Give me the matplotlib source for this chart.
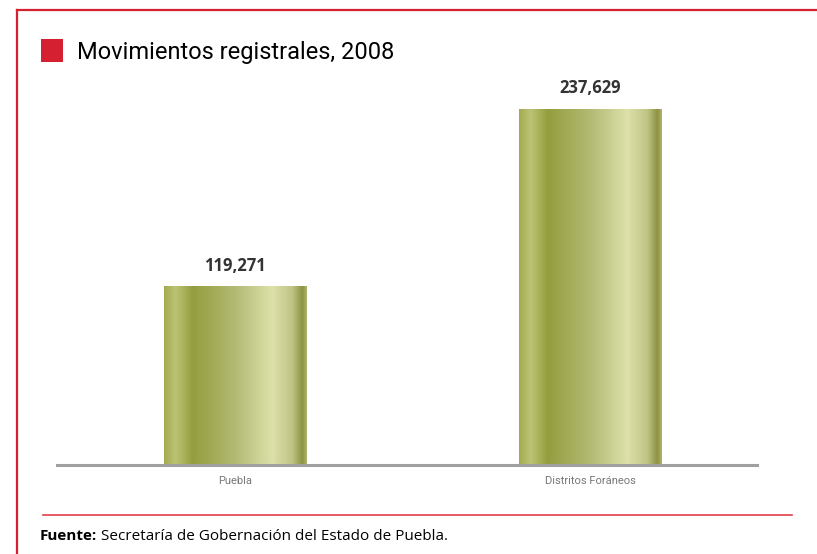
import matplotlib
matplotlib.use("Agg")
import matplotlib.pyplot as plt
from matplotlib.patches import Rectangle
from matplotlib.lines import Line2D
from matplotlib.colors import LinearSegmentedColormap
import numpy as np

# datos
categorias = ["Puebla", "Distritos Foráneos"]
valores = [119271, 237629]
etiquetas = ["119,271", "237,629"]

titulo = "Movimientos registrales, 2008"
fuente_neg = "Fuente:"
fuente_txt = " Secretaría de Gobernación del Estado de Puebla."

rojo = "#d42030"
W, H = 817, 554

# degradado tipo cilindro para las barras
paradas = [(0.0, "#a3ab52"), (0.08, "#bcc474"), (0.2, "#949e3e"),
           (0.5, "#b3ba74"), (0.76, "#dde1aa"), (0.9, "#bfc484"),
           (0.97, "#8d9243"), (1.0, "#aeb36c")]
cmap_barra = LinearSegmentedColormap.from_list("olivo", paradas)

fig = plt.figure(figsize=(W / 100, H / 100), dpi=100)
fig.patch.set_facecolor("white")

def fx(px):
    return px / W

def fy(py):
    return 1 - py / H

# marco rojo
fig.add_artist(Line2D([fx(17), 1], [fy(9.5), fy(9.5)], color=rojo, lw=1.6))
fig.add_artist(Line2D([fx(17), fx(17)], [fy(9.5), 0], color=rojo, lw=1.6))
# linea de la fuente
fig.add_artist(Line2D([fx(43), fx(792)], [fy(515), fy(515)], color="#e0404e", lw=1.2))

# cuadro rojo y titulo
fig.add_artist(Rectangle((fx(41), fy(62)), fx(22), 23 / H, color=rojo, lw=0))
fig.text(fx(77), fy(52), titulo, fontsize=17, family="Roboto",
         va="center", ha="left")

# fuente
t = fig.text(fx(40), fy(536), fuente_neg, fontsize=11, fontweight="bold",
             family="Open Sans", va="center", ha="left")
fig.canvas.draw()
bb = t.get_window_extent()
fig.text(bb.x1 / W, fy(536), fuente_txt, fontsize=11,
         family="Open Sans", va="center", ha="left")

# grafica
ax = fig.add_axes([fx(57), 89 / H, 700 / W, 375 / H])
x = np.arange(len(categorias))
barras = ax.bar(x, valores, width=0.4, color="none", edgecolor="none")
grad = np.linspace(0, 1, 256).reshape(1, -1)
for b, lab in zip(barras, etiquetas):
    x0, y0 = b.get_x(), b.get_y()
    im = ax.imshow(grad, cmap=cmap_barra, aspect="auto",
                   extent=[x0, x0 + b.get_width(), y0, y0 + b.get_height()],
                   zorder=2)
    im.set_clip_path(b)
    ax.annotate(lab, (b.get_x() + b.get_width() / 2, b.get_height()),
                xytext=(0, 8), textcoords="offset points", ha="center",
                va="bottom", fontsize=12, fontweight="bold", color="#333333",
                family="Open Sans")

ax.set_xlim(-0.5, 1.47)
ax.set_ylim(0, 250000)
ax.set_xticks(x)
ax.set_xticklabels(categorias, fontsize=8, color="#777777", family="Roboto")
ax.tick_params(axis="x", length=0, pad=8)
ax.set_yticks([])
for s in ["top", "left", "right"]:
    ax.spines[s].set_visible(False)
ax.spines["bottom"].set_color("#a0a0a0")
ax.spines["bottom"].set_linewidth(2.2)
ax.set_facecolor("none")

fig.savefig("out.png", dpi=100)
